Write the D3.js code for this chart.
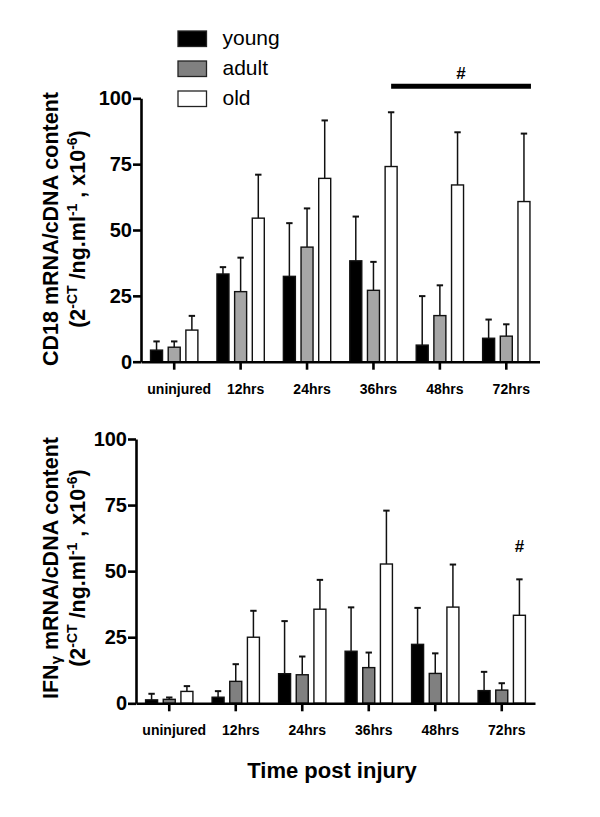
<!DOCTYPE html>
<html>
<head>
<meta charset="utf-8">
<script src="https://cdn.jsdelivr.net/npm/d3@7"></script>
<style>
  html, body { margin: 0; padding: 0; background: #fff; }
  svg { display: block; }
  text { font-family: "Liberation Sans", Arial, sans-serif; fill: #000; }
</style>
</head>
<body>
<svg id="chart" width="600" height="817"></svg>
<script>
// ---------- data ----------
const categories = ["uninjured", "12hrs", "24hrs", "36hrs", "48hrs", "72hrs"];
const series = ["young", "adult", "old"];
const yTicks = [0, 25, 50, 75, 100];

// CD18 (top panel): means and upper error-bar ends
const cd18Young    = [4.4, 33.3, 32.4, 38.3, 6.3, 8.9];
const cd18YoungTop = [7.7, 35.9, 52.6, 55.1, 24.9, 16.0];
const cd18Adult    = [5.5, 26.6, 43.5, 27.1, 17.5, 9.7];
const cd18AdultTop = [7.7, 39.5, 58.2, 37.9, 29.0, 14.2];
const cd18Old      = [12.0, 54.5, 69.6, 74.1, 67.1, 60.8];
const cd18OldTop   = [17.4, 71.0, 91.6, 94.7, 87.1, 86.6];

// IFNγ (bottom panel)
const ifnYoung    = [1.3, 2.3, 11.2, 19.7, 22.3, 4.8];
const ifnYoungTop = [3.6, 4.6, 31.1, 36.3, 36.1, 11.9];
const ifnAdult    = [1.5, 8.3, 10.8, 13.5, 11.3, 5.0];
const ifnAdultTop = [2.2, 14.8, 17.7, 19.2, 18.9, 7.6];
const ifnOld      = [4.5, 25.0, 35.6, 52.7, 36.4, 33.3];
const ifnOldTop   = [6.5, 35.0, 46.7, 72.9, 52.5, 46.9];

const svg = d3.select("#chart");

function drawPanel(opts) {
  const g = svg.append("g");
  const x = d3.scaleBand().domain(categories).range([opts.x0, opts.x1]);
  const xs = d3.scaleBand().domain(series).range([-26.5, 26.5]);
  const y = d3.scaleLinear().domain([0, 100]).range([opts.yBottom, opts.yTop]);
  const barW = 12;

  const rows = [];
  series.forEach((s, si) => {
    categories.forEach((c, ci) => {
      rows.push({ s, c, v: opts.vals[si][ci], e: opts.tops[si][ci], fill: opts.fills[si] });
    });
  });
  const cx = d => x(d.c) + x.bandwidth() / 2 + xs(d.s) + xs.bandwidth() / 2;

  // error bars (upper only)
  g.selectAll("line.err").data(rows).join("line")
    .attr("x1", cx).attr("x2", cx)
    .attr("y1", d => y(d.v)).attr("y2", d => y(d.e))
    .attr("stroke", "#111").attr("stroke-width", 1.5);
  g.selectAll("line.cap").data(rows).join("line")
    .attr("x1", d => cx(d) - 3.2).attr("x2", d => cx(d) + 3.2)
    .attr("y1", d => y(d.e)).attr("y2", d => y(d.e))
    .attr("stroke", "#111").attr("stroke-width", 2);

  // bars
  g.selectAll("rect.bar").data(rows).join("rect")
    .attr("x", d => cx(d) - barW / 2)
    .attr("y", d => y(d.v))
    .attr("width", barW)
    .attr("height", d => y(0) - y(d.v))
    .attr("fill", d => d.fill)
    .attr("stroke", "#111").attr("stroke-width", 1.4);

  // y axis
  const ya = g.append("g").attr("transform", `translate(${opts.x0},0)`)
    .call(d3.axisLeft(y).tickValues(yTicks).tickSize(8).tickPadding(1).tickSizeOuter(0));
  ya.select(".domain").attr("stroke", "#000").attr("stroke-width", 2.6);
  ya.selectAll(".tick line").attr("stroke", "#000").attr("stroke-width", 2.6);
  ya.selectAll(".tick text").attr("font-size", 20).attr("font-weight", "bold")
    .attr("font-family", "'Liberation Sans', Arial, sans-serif").attr("fill", "#000");

  // x axis
  const xa = g.append("g").attr("transform", `translate(0,${opts.yBottom})`)
    .call(d3.axisBottom(x).tickSize(8).tickPadding(14).tickSizeOuter(0));
  xa.select(".domain").attr("stroke", "#000").attr("stroke-width", 2.6);
  xa.selectAll(".tick line").attr("stroke", "#000").attr("stroke-width", 2.6);
  xa.selectAll(".tick text").attr("font-size", 14).attr("font-weight", "bold")
    .attr("dx", 5)
    .attr("font-family", "'Liberation Sans', Arial, sans-serif").attr("fill", "#111");

  // y axis title (two lines, rotated)
  const t1 = g.append("text")
    .attr("transform", `translate(58,${opts.titleY}) rotate(-90)`)
    .attr("text-anchor", "middle").attr("font-size", 21.5).attr("font-weight", "bold");
  opts.title1(t1);
  const t2 = g.append("text")
    .attr("transform", `translate(85,${opts.titleY}) rotate(-90)`)
    .attr("text-anchor", "middle").attr("font-size", 21.5).attr("font-weight", "bold");
  t2.append("tspan").text("(2");
  t2.append("tspan").attr("dy", -8).attr("font-size", 14).text("-CT");
  t2.append("tspan").attr("dy", 8).text(" /ng.ml");
  t2.append("tspan").attr("dy", -8).attr("font-size", 14).text("-1");
  t2.append("tspan").attr("dy", 8).text(" , x10");
  t2.append("tspan").attr("dy", -8).attr("font-size", 14).text("-6");
  t2.append("tspan").attr("dy", 8).text(")");

  return { g, x, xs, y, cx };
}

const topPanel = drawPanel({
  x0: 141, x1: 539.5, yBottom: 361.7, yTop: 98.3, titleY: 229,
  vals: [cd18Young, cd18Adult, cd18Old],
  tops: [cd18YoungTop, cd18AdultTop, cd18OldTop],
  fills: ["#000000", "#a6a6a6", "#ffffff"],
  title1: t => t.text("CD18 mRNA/cDNA content")
});

const bottomPanel = drawPanel({
  x0: 136, x1: 535, yBottom: 703.3, yTop: 439, titleY: 568,
  vals: [ifnYoung, ifnAdult, ifnOld],
  tops: [ifnYoungTop, ifnAdultTop, ifnOldTop],
  fills: ["#000000", "#808080", "#ffffff"],
  title1: t => {
    t.append("tspan").text("IFN");
    t.append("tspan").attr("font-size", 15).attr("dy", 3).text("γ");
    t.append("tspan").attr("dy", -3).text(" mRNA/cDNA content");
  }
});

// significance marker, top panel: bar over 36-72hrs old groups
{
  const { g, y, cx } = topPanel;
  const xa = cx({ c: "36hrs", s: "old" });
  const xb = cx({ c: "72hrs", s: "old" }) + 7;
  g.append("line").attr("x1", xa).attr("x2", xb)
    .attr("y1", y(104.6)).attr("y2", y(104.6))
    .attr("stroke", "#000").attr("stroke-width", 5);
  g.append("text").attr("x", (xa + xb) / 2).attr("y", y(107.3))
    .attr("text-anchor", "middle").attr("font-size", 17).attr("font-weight", "bold").text("#");
}
// significance marker, bottom panel
{
  const { g, y, cx } = bottomPanel;
  g.append("text").attr("x", cx({ c: "72hrs", s: "old" })).attr("y", y(57.3))
    .attr("text-anchor", "middle").attr("font-size", 17).attr("font-weight", "bold").text("#");
}

// x axis title
svg.append("text").attr("x", 332).attr("y", 778)
  .attr("text-anchor", "middle").attr("font-size", 22).attr("font-weight", "bold")
  .text("Time post injury");

// legend
const legendFills = { young: "#000000", adult: "#808080", old: "#ffffff" };
const leg = svg.append("g").attr("transform", "translate(178,31)");
series.forEach((s, i) => {
  const row = leg.append("g").attr("transform", `translate(0,${i * 30})`);
  row.append("rect").attr("width", 28.5).attr("height", 15.5)
    .attr("fill", legendFills[s]).attr("stroke", "#222").attr("stroke-width", 1.3);
  row.append("text").attr("x", 44.5).attr("y", 14).attr("font-size", 21).text(s);
});
</script>
</body>
</html>
